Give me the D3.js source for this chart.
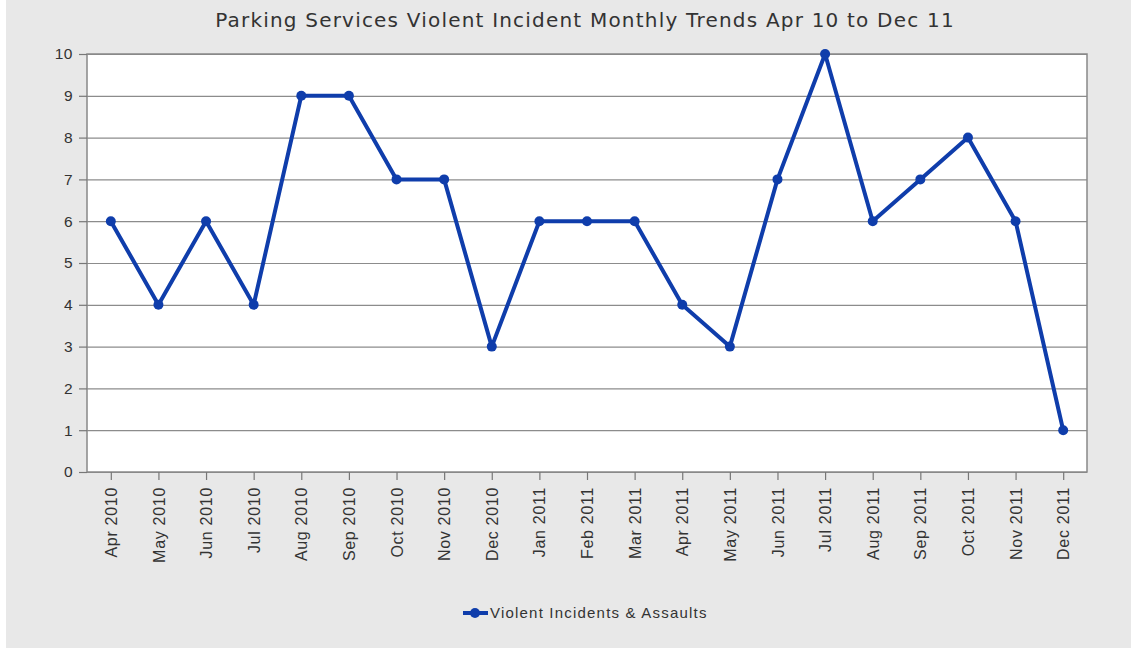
<!DOCTYPE html>
<html>
<head>
<meta charset="utf-8">
<script src="https://cdn.jsdelivr.net/npm/d3@7"></script>
<style>
  body { margin: 0; background: #fff; }
  #chart svg { display: block; }
</style>
</head>
<body>
<div id="chart"></div>
<script>
const width = 1131;
const height = 648;

const months = ['Apr 2010', 'May 2010', 'Jun 2010', 'Jul 2010', 'Aug 2010', 'Sep 2010', 'Oct 2010',
  'Nov 2010', 'Dec 2010', 'Jan 2011', 'Feb 2011', 'Mar 2011', 'Apr 2011', 'May 2011', 'Jun 2011',
  'Jul 2011', 'Aug 2011', 'Sep 2011', 'Oct 2011', 'Nov 2011', 'Dec 2011'];
const incidents = [6, 4, 6, 4, 9, 9, 7, 7, 3, 6, 6, 6, 4, 3, 7, 10, 6, 7, 8, 6, 1];
const yTicks = [0, 1, 2, 3, 4, 5, 6, 7, 8, 9, 10];
const seriesName = 'Violent Incidents & Assaults';
const title = 'Parking Services Violent Incident Monthly Trends Apr 10 to Dec 11';

const lineColor = '#0f3dab';
const margin = { top: 54, right: 44, bottom: 176, left: 87 };

const svg = d3.select('#chart')
  .append('svg')
  .attr('width', width)
  .attr('height', height);

// grey background, thin white strip on the left like the screenshot
svg.append('rect')
  .attr('x', 6).attr('y', 0)
  .attr('width', width - 6).attr('height', height)
  .attr('fill', '#e8e8e8');

const xScale = d3.scalePoint()
  .domain(months)
  .range([margin.left, width - margin.right])
  .padding(0.5);

const yScale = d3.scaleLinear()
  .domain([0, 10])
  .range([height - margin.bottom, margin.top]);

// plot area
svg.append('rect')
  .attr('x', margin.left)
  .attr('y', margin.top)
  .attr('width', width - margin.left - margin.right)
  .attr('height', height - margin.top - margin.bottom)
  .attr('fill', '#fff');

// gridlines
svg.append('g')
  .attr('class', 'gridlines')
  .attr('transform', `translate(${margin.left}, 0)`)
  .call(d3.axisLeft(yScale).tickValues(yTicks).tickFormat('').tickSize(-(width - margin.left - margin.right)))
  .call(g => g.select('.domain').remove())
  .call(g => g.selectAll('line').attr('stroke', '#8c8c8c').attr('stroke-width', 1.2));

// border of plot
svg.append('rect')
  .attr('x', margin.left)
  .attr('y', margin.top)
  .attr('width', width - margin.left - margin.right)
  .attr('height', height - margin.top - margin.bottom)
  .attr('fill', 'none')
  .attr('stroke', '#888')
  .attr('stroke-width', 1.5);

// y axis
const yAxis = svg.append('g')
  .attr('transform', `translate(${margin.left}, 0)`)
  .call(d3.axisLeft(yScale).tickValues(yTicks).tickSize(8).tickPadding(6));
yAxis.select('.domain').remove();
yAxis.selectAll('line').attr('stroke', '#777').attr('stroke-width', 1.2);
yAxis.selectAll('text')
  .attr('fill', '#333')
  .style('font-family', '"Liberation Sans", Arial, sans-serif')
  .style('font-size', '15.5px')
  .style('letter-spacing', '0.5px');

// x axis
const xAxis = svg.append('g')
  .attr('transform', `translate(0, ${height - margin.bottom})`)
  .call(d3.axisBottom(xScale).tickSize(8).tickPadding(6));
xAxis.select('.domain').remove();
xAxis.selectAll('line').attr('stroke', '#777').attr('stroke-width', 1.2);
xAxis.selectAll('text')
  .attr('fill', '#333')
  .style('font-family', '"Liberation Sans", Arial, sans-serif')
  .style('font-size', '16px')
  .style('letter-spacing', '0.7px')
  .attr('transform', 'rotate(-90)')
  .attr('text-anchor', 'end')
  .attr('x', -15)
  .attr('y', 0)
  .attr('dy', '0.35em');

// line
const line = d3.line()
  .x((d, i) => xScale(months[i]))
  .y(d => yScale(d));

svg.append('path')
  .datum(incidents)
  .attr('d', line)
  .attr('fill', 'none')
  .attr('stroke', lineColor)
  .attr('stroke-width', 4)
  .attr('stroke-linejoin', 'round');

svg.append('g')
  .selectAll('circle')
  .data(incidents)
  .join('circle')
  .attr('cx', (d, i) => xScale(months[i]))
  .attr('cy', d => yScale(d))
  .attr('r', 5)
  .attr('fill', lineColor);

// title
svg.append('text')
  .attr('x', 585)
  .attr('y', 27)
  .attr('text-anchor', 'middle')
  .attr('fill', '#333')
  .style('font-family', '"DejaVu Sans", Verdana, sans-serif')
  .style('font-size', '20px')
  .style('letter-spacing', '1.2px')
  .text(title);

// legend
const legend = svg.append('g').attr('transform', 'translate(463, 613)');
legend.append('line')
  .attr('x1', 0).attr('x2', 25)
  .attr('y1', 0).attr('y2', 0)
  .attr('stroke', lineColor)
  .attr('stroke-width', 4);
legend.append('circle')
  .attr('cx', 12).attr('cy', 0).attr('r', 5)
  .attr('fill', lineColor);
legend.append('text')
  .attr('x', 27)
  .attr('y', 0)
  .attr('dy', '0.35em')
  .attr('fill', '#333')
  .style('font-family', '"Liberation Sans", Arial, sans-serif')
  .style('font-size', '15px')
  .style('letter-spacing', '1.2px')
  .text(seriesName);
</script>
</body>
</html>
